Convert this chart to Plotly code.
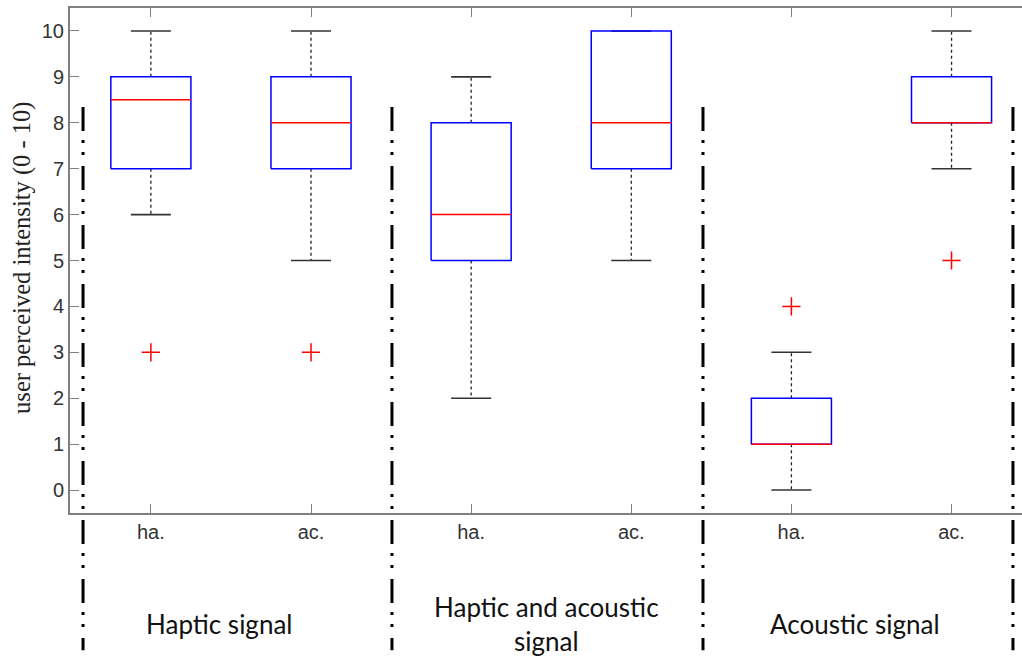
import plotly.graph_objects as go

# Box-plot summary per condition (MATLAB-style boxplot)
groups = ["Haptic signal", "Haptic and acoustic<br>signal", "Acoustic signal"]
tick_labels = ["ha.", "ac.", "ha.", "ac.", "ha.", "ac."]
positions = [1, 2, 3, 4, 5, 6]
whisker_low = [6, 5, 2, 5, 0, 7]
q1 = [7, 7, 5, 7, 1, 8]
median = [8.5, 8, 6, 8, 1, 8]
q3 = [9, 9, 8, 10, 2, 9]
whisker_high = [10, 10, 9, 10, 3, 10]
outlier_x = [1, 2, 5, 6]
outlier_y = [3, 3, 4, 5]

BOX_HALF = 0.25
CAP_HALF = 0.125
AXIS_GREY = "#7f7f7f"
TEXT_GREY = "#333333"

fig = go.Figure()


def seg_trace(xs, ys, color, width, dash="solid"):
    return go.Scatter(x=xs, y=ys, mode="lines", hoverinfo="skip", showlegend=False,
                      line=dict(color=color, width=width, dash=dash))


# whiskers (dashed, box edge to whisker end)
wx, wy = [], []
for p, lo, a, b, hi in zip(positions, whisker_low, q1, q3, whisker_high):
    wx += [p, p, None, p, p, None]
    wy += [b, hi, None, a, lo, None]
fig.add_trace(seg_trace(wx, wy, "#222222", 1.3, "3px,3px"))

# whisker caps
cx, cy = [], []
for p, lo, hi in zip(positions, whisker_low, whisker_high):
    cx += [p - CAP_HALF, p + CAP_HALF, None, p - CAP_HALF, p + CAP_HALF, None]
    cy += [hi, hi, None, lo, lo, None]
fig.add_trace(seg_trace(cx, cy, "#333333", 1.6))

# boxes
bx, by = [], []
for p, a, b in zip(positions, q1, q3):
    bx += [p - BOX_HALF, p + BOX_HALF, p + BOX_HALF, p - BOX_HALF, p - BOX_HALF, None]
    by += [a, a, b, b, a, None]
fig.add_trace(seg_trace(bx, by, "#0000ff", 1.5))

# medians
mx, my = [], []
for p, m in zip(positions, median):
    mx += [p - BOX_HALF, p + BOX_HALF, None]
    my += [m, m, None]
fig.add_trace(seg_trace(mx, my, "#ff0000", 1.5))

# outliers
fig.add_trace(go.Scatter(x=outlier_x, y=outlier_y, mode="markers", hoverinfo="skip",
                         showlegend=False,
                         marker=dict(symbol="cross-thin", size=13,
                                     line=dict(color="#ff0000", width=1.5))))

# dash-dot group separators running past the axes
sep_x = [0.0137, 0.3382, 0.6649, 0.9905]
for sx in sep_x:
    fig.add_shape(type="line", xref="paper", yref="paper",
                  x0=sx, x1=sx, y0=0.804, y1=-0.272,
                  line=dict(color="black", width=3,
                            dash="24px,9px,3px,9px,3px,11px"))

# group labels beneath the axis
group_x = [0.1565, 0.501, 0.8246]
for gx, name in zip(group_x, groups):
    fig.add_annotation(xref="paper", yref="paper", x=gx, y=-0.219, text=name,
                       showarrow=False, xanchor="center", yanchor="middle",
                       font=dict(family="Lato", size=26, color="#111111"))

# y-axis title
fig.add_annotation(xref="paper", yref="paper", x=-0.0505, y=0.505,
                   text="user perceived intensity (0 - 10)", textangle=-90,
                   showarrow=False, xanchor="center", yanchor="middle",
                   font=dict(family="Liberation Serif", size=24.5, color="#222222"))

fig.update_layout(
    width=1022, height=657,
    margin=dict(l=70, r=0, t=8, b=144),
    paper_bgcolor="white", plot_bgcolor="white",
    showlegend=False,
    xaxis=dict(range=[0.495, 6.44], tickmode="array", tickvals=positions,
               ticktext=tick_labels, ticks="inside", ticklen=9, tickwidth=1,
               tickcolor=AXIS_GREY, showline=True, linecolor=AXIS_GREY, linewidth=2,
               mirror="ticks", showgrid=False, zeroline=False,
               tickfont=dict(family="Liberation Sans", size=20, color=TEXT_GREY)),
    yaxis=dict(range=[-0.5, 10.5], tickmode="array", tickvals=list(range(0, 11)),
               ticks="inside", ticklen=9, tickwidth=1, tickcolor=AXIS_GREY,
               showline=True, linecolor=AXIS_GREY, linewidth=2, mirror=False,
               showgrid=False, zeroline=False,
               tickfont=dict(family="Liberation Sans", size=20, color=TEXT_GREY)),
)

fig.write_html("out.html")
